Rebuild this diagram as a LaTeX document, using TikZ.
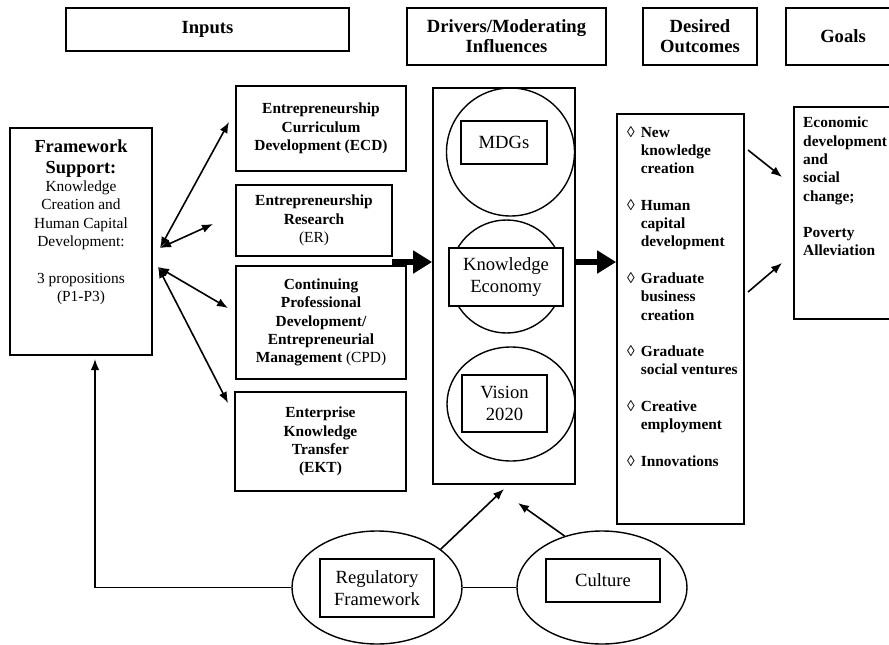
\documentclass[tikz,border=0pt]{standalone}
\usepackage{fontspec}
\setmainfont{Liberation Serif}
\usepackage{tikz}
\usetikzlibrary{shapes.geometric,arrows.meta,positioning,calc}

\newcommand{\bodyfont}{\fontsize{15.4}{18.3}\selectfont}
\newcommand{\headfont}{\fontsize{18.6}{20}\selectfont}
\newcommand{\ringfont}{\fontsize{18.6}{22.5}\selectfont}

\begin{document}
\begin{tikzpicture}[
        x=1pt, y=-1pt,
        box/.style={rectangle, draw, line width=1.7pt, inner sep=0pt, align=center, font=\bodyfont},
        inbox/.style={box, font=\bodyfont\bfseries},
        head/.style={box, font=\headfont\bfseries},
        tag/.style={box, font=\ringfont, fill=white},
        ring/.style={circle, draw, line width=1.4pt, inner sep=0pt},
        oval/.style={ellipse, draw, line width=1.4pt, inner sep=0pt},
        link/.style={line width=1.6pt, {Latex[length=11pt,width=8.5pt]}-{Latex[length=11pt,width=8.5pt]}},
        flow/.style={line width=1.6pt, -{Latex[length=11pt,width=8.5pt]}},
        bigflow/.style={line width=6.5pt, -{Triangle[length=19pt,width=22pt]}}
      ]
        \useasboundingbox (0,0) rectangle (889,645);

        % column headers
        \node[head, minimum width=283pt, minimum height=43pt] (hin) at (207.5,29.5) {Inputs};
        \node[head, minimum width=199pt, minimum height=57pt] (hdrv) at (506.5,36.5) {Drivers/Moderating\\Influences};
        \node[head, minimum width=114pt, minimum height=57pt] (hout) at (700,36.5) {Desired\\Outcomes};
        \node[head, minimum width=114pt, minimum height=57pt] (hgoal) at (843,36.5) {Goals};

        % framework support
        \node[box, minimum width=142pt, minimum height=227pt] (frame) at (81,241.5) {};
        \node[anchor=north, inner sep=0pt, align=center, font=\bodyfont] (frametext) at (81,140)
          {{\fontsize{18.4}{21}\selectfont\bfseries Framework}\\[2pt]
           {\fontsize{18.4}{21}\selectfont\bfseries Support:}\\
           Knowledge\\Creation and\\Human Capital\\Development:\\[18.3pt]
           3 propositions\\(P1-P3)};

        % inputs
        \node[inbox, minimum width=170pt, minimum height=85pt] (ecd) at (321,128.5) {Entrepreneurship\\Curriculum\\Development (ECD)};
        \node[inbox, minimum width=156pt, minimum height=71pt] (er) at (314,220.5) {Entrepreneurship\\Research\\\textmd{(ER)}};
        \node[inbox, minimum width=170pt, minimum height=113pt] (cpd) at (321,322.5) {Continuing\\Professional\\Development/\\Entrepreneurial\\Management \textmd{(CPD)}};
        \node[inbox, minimum width=171pt, minimum height=99pt] (ekt) at (320.5,441.5) {Enterprise\\Knowledge\\Transfer\\(EKT)};

        % drivers
        \node[box, minimum width=142pt, minimum height=396pt] (drv) at (504,286) {};
        \node[ring, minimum size=128pt] (mdgring) at (510.5,152) {};
        \node[tag, minimum width=86pt, minimum height=43pt] (mdg) at (504,142.5) {MDGs};
        \node[ring, minimum size=113pt] (kering) at (506.5,276.5) {};
        \node[tag, minimum width=114pt, minimum height=58pt] (ke) at (506,277) {Knowledge\\Economy};
        \node[oval, minimum width=128pt, minimum height=114pt] (visring) at (511,404) {};
        \node[tag, minimum width=85pt, minimum height=57pt] (vis) at (504.5,403.5) {Vision\\2020};

        % outcomes
        \node[box, minimum width=127pt, minimum height=410pt] (outc) at (680.5,319) {};
        \node[anchor=north west, inner sep=0pt, font=\bodyfont] (outctext) at (627,124)
          {\begin{tabular}{@{}l@{\hspace{6pt}}l@{}}
             ◊ & \textbf{New}\\ & \textbf{knowledge}\\ & \textbf{creation}\\[18.3pt]
             ◊ & \textbf{Human}\\ & \textbf{capital}\\ & \textbf{development}\\[18.3pt]
             ◊ & \textbf{Graduate}\\ & \textbf{business}\\ & \textbf{creation}\\[18.3pt]
             ◊ & \textbf{Graduate}\\ & \textbf{social ventures}\\[18.3pt]
             ◊ & \textbf{Creative}\\ & \textbf{employment}\\[18.3pt]
             ◊ & \textbf{Innovations}
           \end{tabular}};

        % goals
        \node[box, minimum width=110pt, minimum height=212pt] (goal) at (849,213) {};
        \node[anchor=north west, inner sep=0pt, align=left, font=\bodyfont\bfseries] (goaltext) at (803,117)
          {Economic\\development\\and\\social\\change;\\[18.3pt]Poverty\\Alleviation};

        % environment
        \node[oval, minimum width=170pt, minimum height=113pt] (regring) at (377,587.5) {};
        \node[tag, minimum width=114pt, minimum height=58pt] (reg) at (377,588) {Regulatory\\Framework};
        \node[oval, minimum width=170pt, minimum height=113pt] (cultring) at (602,587.5) {};
        \node[tag, minimum width=114pt, minimum height=43pt] (cult) at (603,580.5) {Culture};

        % free ends
        \coordinate (fwa) at (160,248);
        \coordinate (fwb) at (158,267);
        \coordinate (toecd) at (229,122);
        \coordinate (toer) at (213,224);
        \coordinate (tocpd) at (228,308);
        \coordinate (toekt) at (228,403);
        \coordinate (inputs) at (392,262);
        \coordinate (outa) at (748,150);
        \coordinate (outb) at (748,292);
        \coordinate (goala) at (782,177);
        \coordinate (goalb) at (782,263);
        \coordinate (drvreg) at (504,489);
        \coordinate (drvcult) at (518,503);
        \coordinate (frmin) at (95,359);

        \draw[link] (fwa) -- (toecd);
        \draw[link] (fwa) -- (toer);
        \draw[link] (fwb) -- (tocpd);
        \draw[link] (fwb) -- (toekt);

        \draw[bigflow] (inputs) -- (drv.west |- inputs);
        \draw[bigflow] (drv.east |- inputs) -- (outc.west |- inputs);

        \draw[flow] (outa) -- (goala);
        \draw[flow] (outb) -- (goalb);

        \draw[flow] (regring.31) -- (drvreg);
        \draw[flow] (cultring.126) -- (drvcult);
        \draw[line width=1.6pt] (cultring.west) -- (regring.east);
        \draw[flow] (regring.west) -| (frmin);

      \end{tikzpicture}
\end{document}
